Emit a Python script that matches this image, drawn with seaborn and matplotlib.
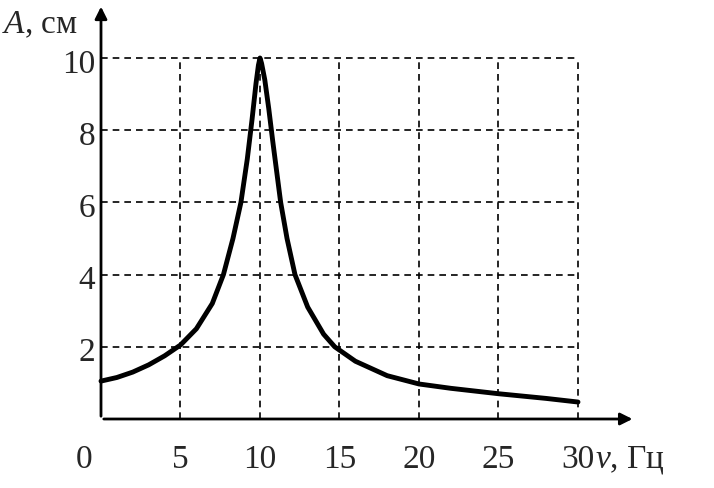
import matplotlib
matplotlib.use("Agg")
import matplotlib.pyplot as plt
import seaborn as sns
import pandas as pd

# values
freq = [0, 1, 2, 3, 4, 5, 6, 7, 7.7, 8.3, 8.8, 9.2, 9.5, 9.75, 9.9, 10, 10.1, 10.3, 10.55, 10.8, 11.3, 11.7, 12.2, 13, 14, 14.7, 16, 18, 20, 22, 25, 28, 30]
ampl = [1.05, 1.15, 1.3, 1.5, 1.75, 2.05, 2.5, 3.2, 4.0, 5.0, 6.0, 7.2, 8.3, 9.3, 9.8, 10.0, 9.85, 9.4, 8.6, 7.7, 6.0, 5.0, 4.0, 3.1, 2.35, 2.0, 1.6, 1.2, 0.97, 0.85, 0.7, 0.57, 0.47]
x_ticks = [5, 10, 15, 20, 25, 30]
y_ticks = [2, 4, 6, 8, 10]

sns.set_style("white")
plt.rcParams['font.family'] = ['Liberation Serif', 'DejaVu Serif']
plt.rcParams['mathtext.fontset'] = 'custom'
plt.rcParams['mathtext.it'] = 'Liberation Serif:italic'
plt.rcParams['mathtext.rm'] = 'Liberation Serif'

fig = plt.figure(figsize=(7.14, 4.89), dpi=100)
ax = fig.add_axes([0, 0, 1, 1])
ax.axis("off")
xs, ys = 15.9, 36.1
ax.set_xlim(-101 / xs, (714 - 101) / xs)
ax.set_ylim(-(489 - 420) / ys, 420 / ys)

for t in x_ticks:
    ax.plot([t, t], [0, 10], color="black", lw=1.2, ls=(0, (4, 3)))
for t in y_ticks:
    ax.plot([0, 30], [t, t], color="black", lw=1.2, ls=(0, (4, 3)))

df = pd.DataFrame({"nu": freq, "A": ampl})
sns.lineplot(data=df, x="nu", y="A", ax=ax, color="black", lw=3.5, sort=False)

ax.annotate("", xy=(33.6, 0), xytext=(0, 0),
            arrowprops=dict(arrowstyle="-|>", color="black", lw=2, mutation_scale=18))
ax.annotate("", xy=(0, 11.5), xytext=(0, 0),
            arrowprops=dict(arrowstyle="-|>", color="black", lw=2, mutation_scale=18))

fs = 24
ax.text(-1.07, -1.1, "0", fontsize=fs, ha="center", va="center")
for t in x_ticks:
    ax.text(t, -1.1, str(t), fontsize=fs, ha="center", va="center")
for t in y_ticks:
    ax.text(-0.35, t - 0.15, str(t), fontsize=fs, ha="right", va="center")
ax.text(-6.25, 10.95, "$A$, см", fontsize=fs, ha="left", va="center")
ax.text(31.1, -1.1, "$\\nu$, Гц", fontsize=fs, ha="left", va="center")

fig.savefig("out.png", dpi=100)
